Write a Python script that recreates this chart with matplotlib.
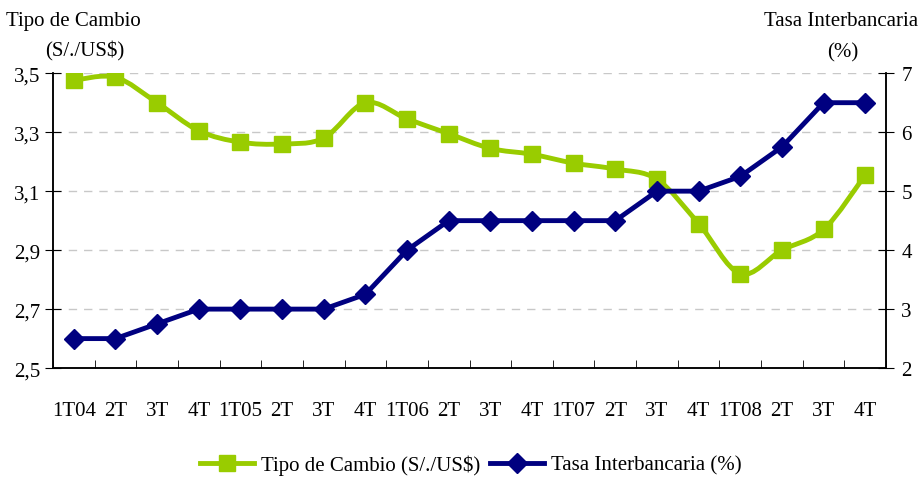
import matplotlib.pyplot as plt
import numpy as np
from matplotlib.path import Path
from matplotlib.patches import PathPatch
from matplotlib.lines import Line2D

plt.rcParams['font.family'] = ['Liberation Serif', 'DejaVu Serif']

quarters = ["1T04", "2T", "3T", "4T", "1T05", "2T", "3T", "4T", "1T06", "2T",
            "3T", "4T", "1T07", "2T", "3T", "4T", "1T08", "2T", "3T", "4T"]
tipo_cambio = [3.476, 3.486, 3.40, 3.305, 3.266, 3.26, 3.28, 3.40, 3.345, 3.295,
               3.245, 3.225, 3.195, 3.175, 3.14, 2.99, 2.82, 2.90, 2.97, 3.155]
tasa_inter = [2.5, 2.5, 2.75, 3.0, 3.0, 3.0, 3.0, 3.25, 4.0, 4.5,
              4.5, 4.5, 4.5, 4.5, 5.0, 5.0, 5.25, 5.75, 6.5, 6.5]

green = "#99CC00"
navy = "#000080"


def smooth_path(x, y):
    # Excel-like smoothed line: cubic Bezier segments through the points
    pts = np.column_stack([x, y])
    verts = [pts[0]]
    codes = [Path.MOVETO]
    n = len(pts)
    for i in range(n - 1):
        p0 = pts[max(i - 1, 0)]
        p1 = pts[i]
        p2 = pts[i + 1]
        p3 = pts[min(i + 2, n - 1)]
        c1 = p1 + (p2 - p0) / 6.0
        c2 = p2 - (p3 - p1) / 6.0
        verts += [c1, c2, p2]
        codes += [Path.CURVE4] * 3
    return Path(verts, codes)


fig = plt.figure(figsize=(9.23, 4.85), dpi=100)
ax = fig.add_axes([0.0574, 0.239, 0.9026, 0.608])
ax2 = ax.twinx()

x = np.arange(len(quarters))

ax.add_patch(PathPatch(smooth_path(x, tipo_cambio), facecolor="none",
                       edgecolor=green, lw=3.5, zorder=3))
ax.plot(x, tipo_cambio, ls="none", marker="s", ms=12, color=green, zorder=4)

ax2.plot(x, tasa_inter, color=navy, lw=3.5, marker="D", ms=10.5, zorder=5)

ax.set_xlim(-0.5, len(quarters) - 0.5)
ax.set_ylim(2.5, 3.5)
ax2.set_ylim(2, 7)

ax.set_yticks([2.5, 2.7, 2.9, 3.1, 3.3, 3.5])
ax.set_yticklabels(["2,5", "2,7", "2,9", "3,1", "3,3", "3,5"])
ax2.set_yticks([2, 3, 4, 5, 6, 7])

ax.set_xticks(x)
ax.set_xticklabels(quarters)
ax.set_xticks(np.arange(-0.5, len(quarters)), minor=True)
ax.tick_params(axis="x", which="major", length=0, pad=24, labelsize=15)
ax.tick_params(axis="x", which="minor", length=6, direction="in")
ax.tick_params(axis="y", length=12, direction="inout", labelsize=15, pad=3)
ax2.tick_params(axis="y", length=12, direction="inout", labelsize=15, pad=5)

for yv in [2.7, 2.9, 3.1, 3.3, 3.5]:
    ax.axhline(yv, color="#c8c8c8", lw=1, ls=(0, (6, 5)), zorder=1)

for a in (ax, ax2):
    a.spines["top"].set_visible(False)
    for s in ("left", "right", "bottom"):
        a.spines[s].set_color("black")
        a.spines[s].set_linewidth(1.1)

fig.text(0.006, 0.955, "Tipo de Cambio", fontsize=15, ha="left", va="center")
fig.text(0.092, 0.893, "(S/./US$)", fontsize=15, ha="center", va="center")
fig.text(0.995, 0.955, "Tasa Interbancaria", fontsize=15, ha="right", va="center")
fig.text(0.913, 0.891, "(%)", fontsize=15, ha="center", va="center")

handles = [Line2D([], [], color=green, lw=3.5, marker="s", ms=12),
           Line2D([], [], color=navy, lw=3.5, marker="D", ms=10.5)]
fig.legend(handles, ["Tipo de Cambio (S/./US$)", "Tasa Interbancaria (%)"],
           loc="center", bbox_to_anchor=(0.51, 0.04), ncol=2, frameon=False,
           fontsize=15, handlelength=2.6, handletextpad=0.3, columnspacing=0.5)

fig.savefig("out.png", dpi=100)
